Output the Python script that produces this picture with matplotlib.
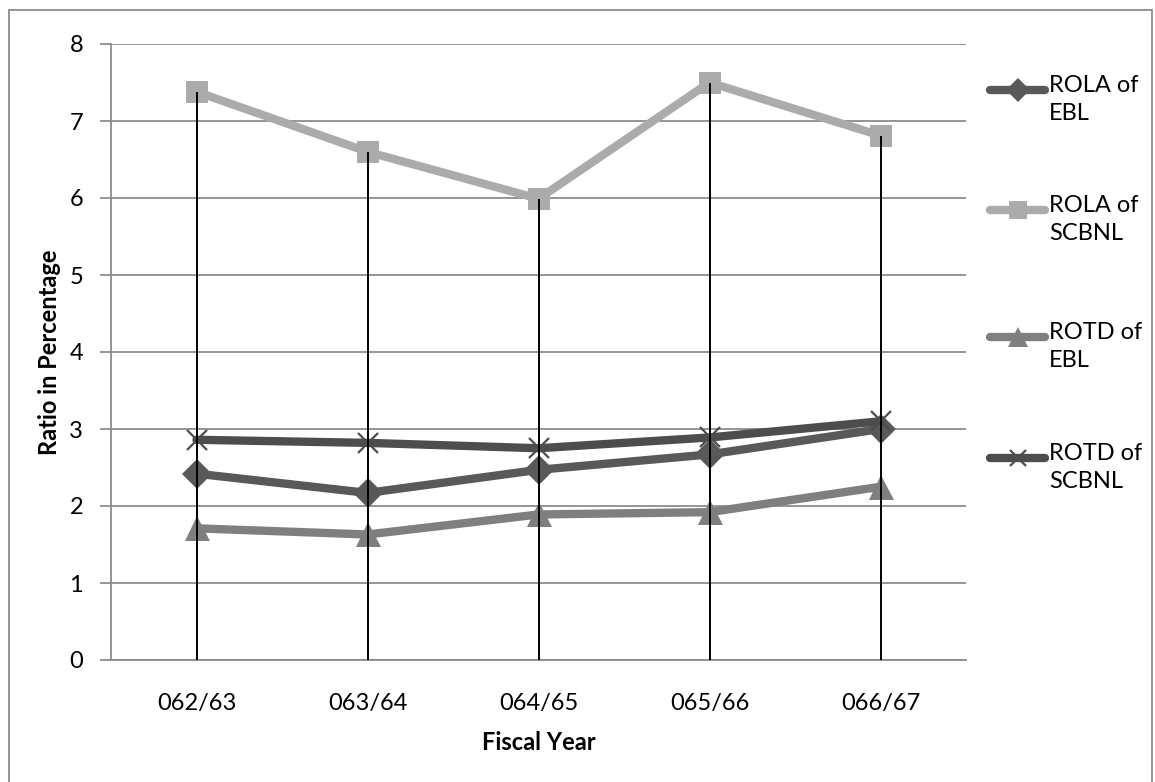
import matplotlib
matplotlib.use("Agg")
import matplotlib.pyplot as plt
from matplotlib.lines import Line2D
from matplotlib.patches import Rectangle
import numpy as np

plt.rcParams['font.family'] = ['Lato', 'DejaVu Sans']

# Data
years = ['062/63', '063/64', '064/65', '065/66', '066/67']
rola_ebl = [2.42, 2.17, 2.47, 2.67, 3.00]
rola_scbnl = [7.38, 6.60, 5.99, 7.50, 6.81]
rotd_ebl = [1.71, 1.63, 1.89, 1.92, 2.25]
rotd_scbnl = [2.86, 2.82, 2.75, 2.89, 3.10]

series = [
    ('ROLA of\nEBL', rola_ebl, '#595959', 'D', 15),
    ('ROLA of\nSCBNL', rola_scbnl, '#ababab', 's', 16),
    ('ROTD of\nEBL', rotd_ebl, '#7f7f7f', '^', 18),
    ('ROTD of\nSCBNL', rotd_scbnl, '#4d4d4d', 'x', 15),
]

fig = plt.figure(figsize=(11.55, 7.82), dpi=100)
ax = fig.add_axes([111 / 1155, 1 - 660 / 782, 855 / 1155, 616 / 782])

x = np.arange(len(years))
for label, vals, col, mk, ms in series:
    ax.plot(x, vals, color=col, lw=6, marker=mk, ms=ms,
            mew=1.6 if mk == 'x' else 0, solid_capstyle='round',
            solid_joinstyle='round', zorder=3)

# drop lines from the highest point down to the axis
top = np.max([rola_ebl, rola_scbnl, rotd_ebl, rotd_scbnl], axis=0)
ax.vlines(x, 0, top, color='black', lw=1.4, zorder=5)

ax.set_xlim(-0.5, len(years) - 0.5)
ax.set_ylim(0, 8)
ax.set_yticks(range(0, 9))
ax.set_xticks(x)
ax.set_xticklabels(years)
ax.yaxis.grid(True, color='#8c8c8c', lw=1.3)
ax.set_axisbelow(True)
for s in ['top', 'right']:
    ax.spines[s].set_visible(False)
for s in ['left', 'bottom']:
    ax.spines[s].set_color('#8c8c8c')
    ax.spines[s].set_linewidth(1.3)
ax.tick_params(axis='y', length=8, color='#8c8c8c', width=1.3, labelsize=17, pad=12)
ax.tick_params(axis='x', length=0, labelsize=17, pad=24)
ax.set_xlabel('Fiscal Year', fontsize=17, fontweight='bold', labelpad=12)
ax.set_ylabel('Ratio in Percentage', fontsize=17, fontweight='bold', labelpad=6)

# legend drawn by hand so the sample sits on the first text line
leg_y = [90, 210, 337, 458]
for (label, vals, col, mk, ms), yy in zip(series, leg_y):
    fy = 1 - yy / 782
    ln = Line2D([990 / 1155, 1045 / 1155], [fy, fy], transform=fig.transFigure,
                color=col, lw=6, solid_capstyle='round')
    fig.add_artist(ln)
    mk_ln = Line2D([1018 / 1155], [fy], transform=fig.transFigure, color=col,
                   marker=mk, ms=ms * 0.8, mew=1.6 if mk == 'x' else 0, lw=0)
    fig.add_artist(mk_ln)
    fig.text(1049 / 1155, fy + 0.019, label, fontsize=17, va='top', ha='left',
             linespacing=1.4)

fig.add_artist(Rectangle((9 / 1155, -0.02), 1143 / 1155, 1.02 - 10 / 782,
                         transform=fig.transFigure, fill=False,
                         edgecolor='#8c8c8c', lw=1.3))

fig.savefig('out.png', dpi=100)
